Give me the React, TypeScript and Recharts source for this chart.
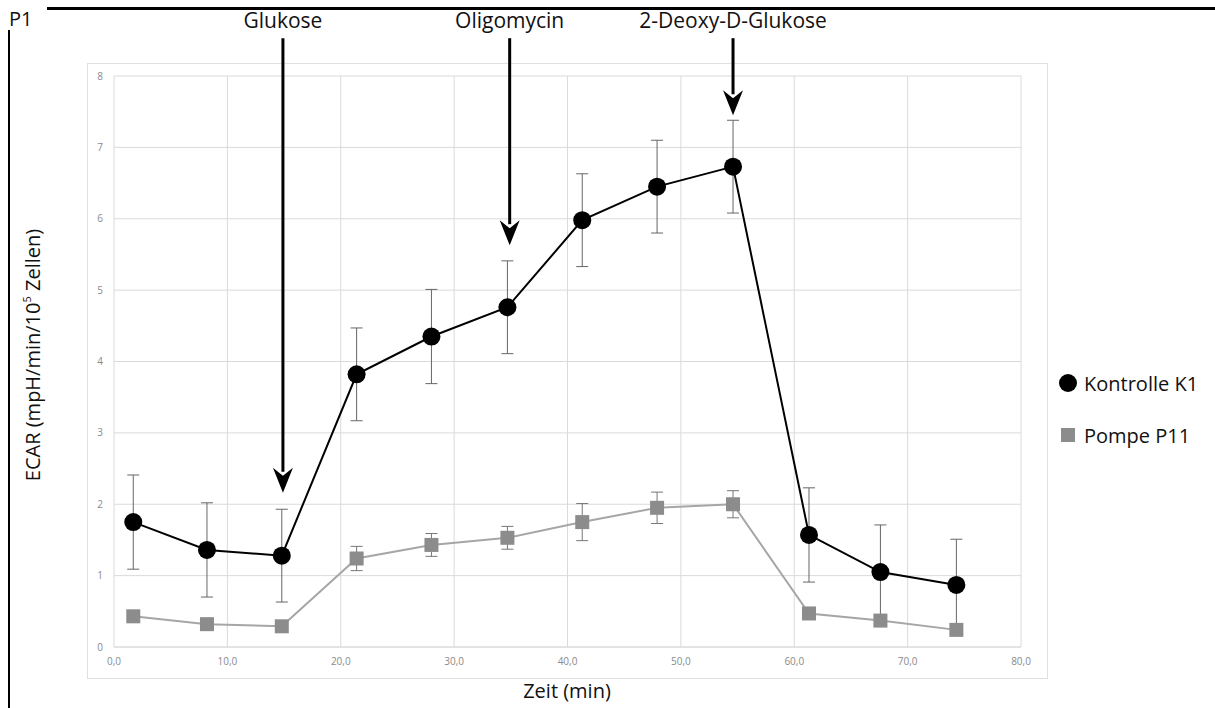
import React from "react"
import {
  LineChart,
  Line,
  XAxis,
  YAxis,
  CartesianGrid,
  ErrorBar,
  ReferenceLine,
  Legend
} from "recharts"

// Messzeitpunkte (min)
const times = [1.7, 8.2, 14.8, 21.4, 28.0, 34.7, 41.3, 47.9, 54.6, 61.3, 67.6, 74.3]

// ECAR Kontrolle K1 und Standardabweichung
const kontrolle = [1.75, 1.36, 1.28, 3.82, 4.35, 4.76, 5.98, 6.45, 6.73, 1.57, 1.05, 0.87]
const kontrolleErr = [0.66, 0.66, 0.65, 0.65, 0.66, 0.65, 0.65, 0.65, 0.65, 0.66, 0.66, 0.64]

// ECAR Pompe P11 und Standardabweichung
const pompe = [0.43, 0.32, 0.29, 1.24, 1.43, 1.53, 1.75, 1.95, 2.0, 0.47, 0.37, 0.24]
const pompeErr = [0.05, 0.05, 0.05, 0.17, 0.16, 0.16, 0.26, 0.22, 0.19, 0.05, 0.05, 0.05]

const xTicks = [0, 10, 20, 30, 40, 50, 60, 70, 80]
const yTicks = [0, 1, 2, 3, 4, 5, 6, 7, 8]

// Zugaben (Pfeile oben)
const injectionLabels = ["Glukose", "Oligomycin", "2-Deoxy-D-Glukose"]
const injectionTimes = [14.9, 34.9, 54.6]
const injectionTips = [2.16, 5.63, 7.45]
const arrowTop = 8.53

const data = times.map((t, i) => ({
  t,
  k1: kontrolle[i],
  k1Err: kontrolleErr[i],
  p11: pompe[i],
  p11Err: pompeErr[i]
}))

const titleFont = "'Open Sans', sans-serif"

const makeArrow = (label: string) => (props: any) => {
  const { x1, y1, x2, y2 } = props
  const head = 25
  return (
    <g>
      <line x1={x1} y1={y1} x2={x2} y2={y2 - head + 4} stroke="#000" strokeWidth={3} />
      <path
        d={`M ${x2 - 10} ${y2 - head} L ${x2} ${y2 - head + 8} L ${x2 + 10} ${y2 - head} L ${x2} ${y2} Z`}
        fill="#000"
      />
      <text
        x={x1}
        y={y1 - 16}
        textAnchor="middle"
        dominantBaseline="middle"
        fontFamily={titleFont}
        fontSize={21}
        fill="#111"
      >
        {label}
      </text>
    </g>
  )
}

const SquareDot = (props: any) => {
  const { cx, cy, index } = props
  return <rect key={`sq-${index}`} x={cx - 7} y={cy - 7} width={14} height={14} fill="#8c8c8c" />
}

const LegendContent = () => (
  <div style={{ fontFamily: titleFont, fontSize: 20, color: "#111" }}>
    <div style={{ display: "flex", alignItems: "center", height: 30 }}>
      <svg width={20} height={20} style={{ marginRight: 6 }}>
        <circle cx={10} cy={10} r={9} fill="#000" />
      </svg>
      Kontrolle K1
    </div>
    <div style={{ display: "flex", alignItems: "center", height: 30, marginTop: 22 }}>
      <svg width={20} height={20} style={{ marginRight: 6 }}>
        <rect x={3} y={3} width={14} height={14} fill="#8c8c8c" />
      </svg>
      Pompe P11
    </div>
  </div>
)

const YLabel = () => (
  <text
    x={35}
    y={355}
    transform="rotate(-90, 35, 355)"
    textAnchor="middle"
    dominantBaseline="middle"
    fontFamily={titleFont}
    fontSize={20}
    fill="#111"
  >
    ECAR (mpH/min/10
    <tspan fontSize={11} dy={-7}>5</tspan>
    <tspan dy={7}> Zellen)</tspan>
  </text>
)

export default function App() {
  return (
    <div style={{ position: "absolute", left: 0, top: 0, width: 1215, height: 708, background: "#fff", overflow: "hidden" }}>
      {/* Rahmen der Abbildung */}
      <div style={{ position: "absolute", left: 47, top: 7, width: 1168, height: 3, background: "#000" }} />
      <div style={{ position: "absolute", left: 8, top: 30, width: 2, height: 678, background: "#000" }} />
      <div style={{ position: "absolute", left: 9, top: 5, fontFamily: titleFont, fontSize: 20, color: "#111" }}>P1</div>
      <div style={{ position: "absolute", left: 87, top: 63, width: 959, height: 614, border: "1px solid #e0e0e0" }} />

      <div style={{ position: "absolute", left: 0, top: 0 }}>
        <LineChart width={1215} height={708} data={data} margin={{ top: 76, right: 194, bottom: 36, left: 90 }}>
          <CartesianGrid stroke="#dadada" strokeWidth={1} />
          <XAxis
            type="number"
            dataKey="t"
            domain={[0, 80]}
            ticks={xTicks}
            tickFormatter={(v: number) => v.toFixed(1).replace(".", ",")}
            tick={{ fontSize: 10, fill: "#8a8a8a", fontFamily: titleFont }}
            tickLine={false}
            tickSize={0}
            tickMargin={11}
            axisLine={{ stroke: "#dadada" }}
            height={25}
            interval={0}
          />
          <YAxis
            type="number"
            domain={[0, 8]}
            ticks={yTicks}
            tick={{ fontSize: 10, fill: "#8a8a8a", fontFamily: titleFont }}
            tickLine={false}
            tickSize={0}
            tickMargin={11}
            axisLine={false}
            width={24}
            interval={0}
            label={<YLabel />}
          />
          <Line
            type="linear"
            dataKey="p11"
            stroke="#a6a6a6"
            strokeWidth={2}
            dot={<SquareDot />}
            activeDot={false}
            isAnimationActive={false}
          >
            <ErrorBar dataKey="p11Err" direction="y" width={6} stroke="#777" strokeWidth={1} />
          </Line>
          <Line
            type="linear"
            dataKey="k1"
            stroke="#000"
            strokeWidth={2}
            dot={{ r: 9, fill: "#000", stroke: "#000", strokeWidth: 0 }}
            activeDot={false}
            isAnimationActive={false}
          >
            <ErrorBar dataKey="k1Err" direction="y" width={6} stroke="#666" strokeWidth={1} />
          </Line>
          {injectionLabels.map((label, i) => (
            <ReferenceLine
              key={label}
              segment={[
                { x: injectionTimes[i], y: arrowTop },
                { x: injectionTimes[i], y: injectionTips[i] }
              ]}
              ifOverflow="visible"
              shape={makeArrow(label)}
            />
          ))}
          <Legend
            layout="vertical"
            align="center"
            verticalAlign="middle"
            content={<LegendContent />}
            wrapperStyle={{ position: "absolute", left: 1058, top: 368, width: 160 }}
          />
        </LineChart>
      </div>

      <div
        style={{
          position: "absolute",
          left: 467,
          top: 677,
          width: 200,
          textAlign: "center",
          fontFamily: titleFont,
          fontSize: 20,
          color: "#111"
        }}
      >
        Zeit (min)
      </div>
    </div>
  )
}
